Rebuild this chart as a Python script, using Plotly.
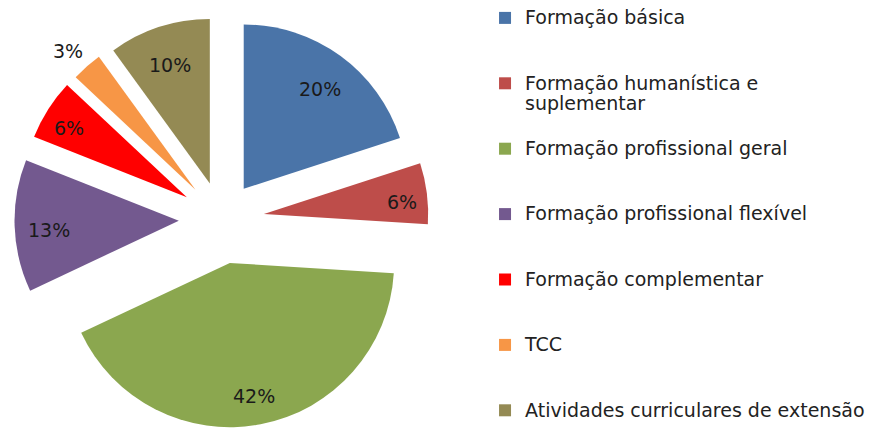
import math
import plotly.graph_objects as go

labels = [
    "Formação básica",
    "Formação humanística e<br>suplementar",
    "Formação profissional geral",
    "Formação profissional flexível",
    "Formação complementar",
    "TCC",
    "Atividades curriculares de extensão",
]
values = [20, 6, 42, 13, 6, 3, 10]
colors = ["#4A74A8", "#BE4D4A", "#8BA74F", "#73598F", "#FF0000", "#F79646", "#948A54"]
pulls = [0.23, 0.26, 0.27, 0.26, 0.25, 0.24, 0.23]
outside_idx = 5  # TCC label drawn outside the slice

FONT = "DejaVu Sans, sans-serif"
W, H = 879, 428
PIE_X = [0.012, 0.492]
PIE_Y = [0.0, 0.975]


def big(s):
    return "<br>".join(f"<span style='font-size:19px'>{p}</span>" for p in s.split("<br>"))


# pad legend entries so they are evenly spaced like the original
legend_labels = []
for i, lab in enumerate(labels):
    n = lab.count("<br>") + 1
    lab = big(lab)
    if i < len(labels) - 1:
        lab = lab + "<br>&nbsp;" * (3 - n)
    legend_labels.append(lab)

total = sum(values)

fig = go.Figure(
    go.Pie(
        labels=legend_labels,
        values=values,
        sort=False,
        direction="clockwise",
        rotation=0,
        pull=pulls,
        marker=dict(colors=colors, line=dict(width=0)),
        textinfo="none",
        domain=dict(x=PIE_X, y=PIE_Y),
        hoverinfo="label+percent",
    )
)

# percentage labels placed along each slice's bisector (computed from the data)
wpx = (PIE_X[1] - PIE_X[0]) * W
hpx = (PIE_Y[1] - PIE_Y[0]) * H
R = min(wpx, hpx) / 2
ax = wpx / 2 / R
ay = hpx / 2 / R
r_unit = 1.0 / (1 + max(pulls))
cum = 0
for i, v in enumerate(values):
    mid = cum + v / 2
    cum += v
    ang = 2 * math.pi * mid / total
    dx, dy = math.sin(ang), math.cos(ang)
    if i == outside_idx:
        f = 1.17
    elif v / total < 0.10:
        f = 0.85
    else:
        f = 0.79
    d = r_unit * (pulls[i] + f)
    fig.add_annotation(
        x=d * dx, y=d * dy - 0.025, xref="x", yref="y",
        text=f"{v / total:.0%}", showarrow=False,
        font=dict(family=FONT, size=19, color="#1a1a1a"),
        xanchor="center", yanchor="middle",
    )

# invisible helper trace so the cartesian axes used for label placement exist
fig.add_trace(go.Scatter(x=[-ax, ax], y=[-ay, ay], mode="markers",
                         marker=dict(opacity=0), showlegend=False, hoverinfo="skip"))

fig.update_xaxes(domain=PIE_X, range=[-ax, ax], visible=False, fixedrange=True)
fig.update_yaxes(domain=PIE_Y, range=[-ay, ay], visible=False, fixedrange=True)

fig.update_layout(
    width=W,
    height=H,
    margin=dict(l=0, r=0, t=0, b=0),
    paper_bgcolor="white",
    plot_bgcolor="rgba(0,0,0,0)",
    font=dict(family=FONT, size=16, color="#222222"),
    legend=dict(
        x=0.5518,
        y=0.0,
        xanchor="left",
        yanchor="bottom",
        valign="top",
        font=dict(size=16, family=FONT, color="#222222"),
        itemwidth=30,
    ),
)

fig.write_html("out.html")
